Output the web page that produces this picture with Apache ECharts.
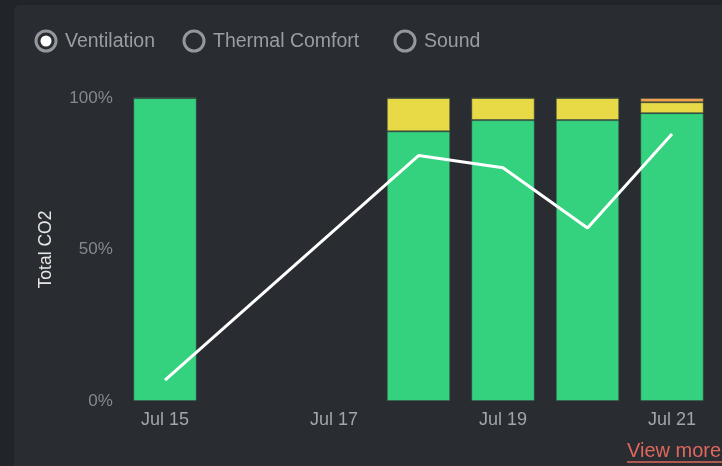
<!DOCTYPE html>
<html>
<head>
<meta charset="utf-8">
<script src="https://cdn.jsdelivr.net/npm/echarts@6/dist/echarts.min.js"></script>
<style>
  html, body { margin: 0; padding: 0; background: #212428; }
  #chart { width: 722px; height: 466px; }
</style>
</head>
<body>
<div id="chart"></div>
<script>
// Daily share of time spent in each CO2 band, plus the overall CO2 score line
const categories = ['Jul 15', 'Jul 16', 'Jul 17', 'Jul 18', 'Jul 19', 'Jul 20', 'Jul 21'];
const goodShare = [100, null, null, 89.0, 92.7, 92.7, 95.0];
const fairShare = [0, null, null, 11.0, 7.3, 7.3, 3.6];
const poorShare = [0, null, null, 0, 0, 0, 1.4];
const totalCO2 = [6.9, null, null, 81.0, 77.0, 57.1, 88.1];
const yTicks = [0, 50, 100];
const tabs = ['Ventilation', 'Thermal Comfort', 'Sound'];

const FONT = '"Liberation Sans", Arial, sans-serif';
const chart = echarts.init(document.getElementById('chart'), null, { renderer: 'canvas' });

const tabX = [46, 194, 405];
const tabGraphics = [];
tabs.forEach((name, i) => {
  tabGraphics.push({
    type: 'circle',
    shape: { cx: tabX[i], cy: 41, r: 10 },
    style: { fill: 'none', stroke: '#94979b', lineWidth: 3 }
  });
  if (i === 0) {
    tabGraphics.push({
      type: 'circle',
      shape: { cx: tabX[i], cy: 41, r: 5.5 },
      style: { fill: '#ffffff' }
    });
  }
  tabGraphics.push({
    type: 'text',
    x: tabX[i] + 19,
    y: 42,
    style: {
      text: name,
      fill: '#9a9da1',
      font: '19.5px ' + FONT,
      verticalAlign: 'middle'
    }
  });
});

const band = (name, data, color) => ({
  name,
  type: 'bar',
  stack: 'share',
  barWidth: '75%',
  data,
  itemStyle: { color, borderColor: 'rgba(60,80,70,0.5)', borderWidth: 1 }
});

chart.setOption({
  backgroundColor: '#212428',
  animation: false,
  textStyle: { fontFamily: FONT },
  graphic: [
    {
      type: 'rect',
      shape: { x: 14, y: 5, width: 720, height: 470, r: 6 },
      style: { fill: '#292d32' },
      z: -10
    },
    ...tabGraphics,
    {
      type: 'text',
      x: 627,
      y: 451,
      style: {
        text: 'View more',
        fill: '#e0675c',
        font: '20px ' + FONT,
        verticalAlign: 'middle'
      }
    },
    {
      type: 'line',
      shape: { x1: 627, y1: 462, x2: 722, y2: 462 },
      style: { stroke: '#e0675c', lineWidth: 1.5 }
    }
  ],
  grid: { left: 122.75, right: 7.75, top: 98, bottom: 65, containLabel: false },
  xAxis: {
    type: 'category',
    data: categories,
    axisLine: { show: false },
    axisTick: { show: false },
    axisLabel: { interval: 1, color: '#a2a5a9', fontSize: 18, margin: 10 }
  },
  yAxis: {
    type: 'value',
    min: yTicks[0],
    max: yTicks[yTicks.length - 1],
    interval: yTicks[1] - yTicks[0],
    name: 'Total CO2',
    nameLocation: 'middle',
    nameRotate: 90,
    nameGap: 68,
    nameTextStyle: { color: '#e6e6e6', fontSize: 17.5 },
    splitLine: { show: false },
    axisLine: { show: false },
    axisTick: { show: false },
    axisLabel: { formatter: '{value}%', color: '#85888c', fontSize: 17, margin: 10 }
  },
  series: [
    band('Good', goodShare, '#34d27e'),
    band('Fair', fairShare, '#e8da46'),
    band('Poor', poorShare, '#f2a24c'),
    {
      name: 'Total CO2',
      type: 'line',
      data: totalCO2,
      connectNulls: true,
      showSymbol: false,
      symbol: 'none',
      lineStyle: { color: '#ffffff', width: 3 },
      z: 5
    }
  ]
});
</script>
</body>
</html>
